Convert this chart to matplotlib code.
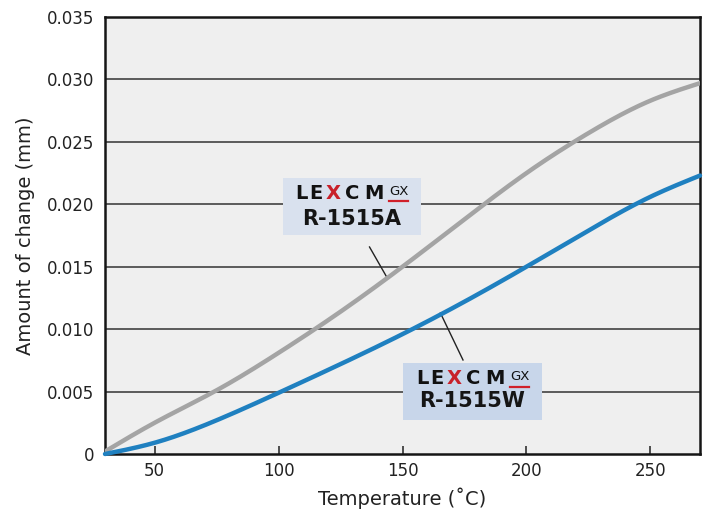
import matplotlib
matplotlib.use("Agg")
import matplotlib.pyplot as plt
from matplotlib.patches import Rectangle
from matplotlib.lines import Line2D
import numpy as np

plt.rcParams['font.family'] = ['DejaVu Sans']

temps = [30, 50, 75, 100, 125, 150, 175, 200, 225, 250, 270]
r1515a = [0.0002, 0.0025, 0.0051, 0.0081, 0.0114, 0.0150, 0.0188, 0.0225, 0.0257, 0.0283, 0.0297]
r1515w = [0.0000, 0.0009, 0.0027, 0.0049, 0.0072, 0.0096, 0.0122, 0.0150, 0.0179, 0.0206, 0.0223]
xticks = [50, 100, 150, 200, 250]
yticks = [0, 0.005, 0.010, 0.015, 0.020, 0.025, 0.030, 0.035]
ytick_labels = ["0", "0.005", "0.010", "0.015", "0.020", "0.025", "0.030", "0.035"]
model_a = "R-1515A"
model_w = "R-1515W"


def spline(x, y, n=400):
    """Natural cubic spline through the read points (for a smooth curve)."""
    x = np.asarray(x, float); y = np.asarray(y, float)
    k = len(x); h = np.diff(x)
    A = np.zeros((k, k)); b = np.zeros(k)
    A[0, 0] = A[-1, -1] = 1
    for i in range(1, k - 1):
        A[i, i-1] = h[i-1]; A[i, i] = 2*(h[i-1] + h[i]); A[i, i+1] = h[i]
        b[i] = 6*((y[i+1]-y[i])/h[i] - (y[i]-y[i-1])/h[i-1])
    M = np.linalg.solve(A, b)
    xs = np.linspace(x[0], x[-1], n)
    idx = np.clip(np.searchsorted(x, xs) - 1, 0, k - 2)
    xi, xi1, hi = x[idx], x[idx+1], h[idx]
    ys = (M[idx]*(xi1-xs)**3/(6*hi) + M[idx+1]*(xs-xi)**3/(6*hi)
          + (y[idx]/hi - M[idx]*hi/6)*(xi1-xs) + (y[idx+1]/hi - M[idx+1]*hi/6)*(xs-xi))
    return xs, ys


W, H = 710, 509
fig = plt.figure(figsize=(W/100, H/100), dpi=100)
ax = fig.add_axes([105/W, 55/H, 595/W, 437/H])
ax.set_facecolor('#efefef')

for v in yticks[1:-1]:
    ax.axhline(v, color='#333333', lw=1.1, zorder=1)

xs, ys = spline(temps, r1515a)
ax.plot(xs, ys, color='#a4a4a4', lw=3.2, zorder=3, solid_capstyle='round')
xs, ys = spline(temps, r1515w)
ax.plot(xs, ys, color='#1f80c0', lw=3.2, zorder=4, solid_capstyle='round', clip_on=False)

ax.set_xlim(30, 270)
ax.set_ylim(0, 0.035)
ax.set_xticks(xticks)
ax.set_yticks(yticks)
ax.set_yticklabels(ytick_labels)
ax.tick_params(axis='both', direction='in', length=6, width=1.1, labelsize=12,
               colors='#222222', pad=6)
ax.tick_params(axis='y', length=0, pad=7.5)
for s in ax.spines.values():
    s.set_linewidth(1.8)
    s.set_color('#151515')
ax.set_xlabel('Temperature (˚C)', fontsize=14, color='#222222', labelpad=5)
ax.set_ylabel('Amount of change (mm)', fontsize=14, color='#222222', labelpad=9)


def px_text(x, y, s, **kw):
    fig.text(x/W, 1 - y/H, s, zorder=6, **kw)


def label(x0, y0, x1, y1, color, lx, ly, ty, model):
    fig.add_artist(Rectangle((x0/W, 1-y1/H), (x1-x0)/W, (y1-y0)/H,
                             transform=fig.transFigure, facecolor=color,
                             edgecolor='none', zorder=5))
    letters = [('L', 5.5, '#111111'), ('E', 19.5, '#111111'), ('X', 37, '#c8202a'),
               ('C', 56, '#111111'), ('M', 78, '#111111')]
    for ch, dx, c in letters:
        px_text(lx + dx, ly, ch, fontsize=14, fontweight='bold', color=c,
                va='center', ha='center')
    px_text(lx + 103, ly - 2, 'GX', fontsize=9.5, color='#111111', va='center', ha='center')
    fig.add_artist(Line2D([(lx + 93)/W, (lx + 112)/W], [1-(ly+7.5)/H, 1-(ly+7.5)/H],
                          transform=fig.transFigure, color='#d0202a', lw=1.6, zorder=6))
    px_text((x0 + x1)/2, ty, model, fontsize=15, fontweight='bold', color='#151515',
            va='center', ha='center')


label(283, 178, 421, 235, '#d9e1ee', 296, 193.5, 219, model_a)
label(403, 363, 542, 420, '#c8d6ea', 417, 379, 401, model_w)

# leader lines
ax.plot([136.7, 143.7], [0.01658, 0.01415], color='#222222', lw=1, zorder=2)
ax.plot([165.3, 174.4], [0.01129, 0.00753], color='#222222', lw=1, zorder=2)

fig.savefig('out.png', dpi=100, facecolor='white')
